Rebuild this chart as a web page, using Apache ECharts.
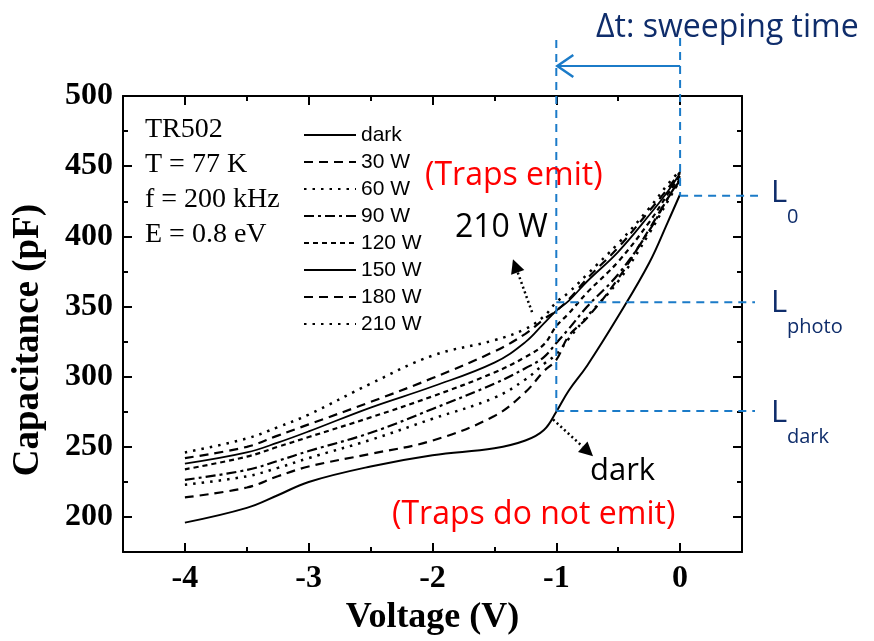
<!DOCTYPE html>
<html><head><meta charset="utf-8">
<script src="https://cdn.jsdelivr.net/npm/echarts/dist/echarts.min.js"></script>
<style>html,body{margin:0;padding:0;background:#fff}#c{width:874px;height:641px}</style>
</head><body><div id="c"></div>
<script>
// ---- data ----
const voltage = [-4, -3.5, -3.25, -3, -2.5, -2, -1.5, -1.25, -1.1, -1, -0.9, -0.75, -0.5, -0.25, -0.1, 0];
const cDark = [196, 206.5, 215.5, 225, 236, 244, 249, 254.5, 262, 275, 290, 308, 343, 381, 410, 430];
const c30W  = [214, 221, 229, 236, 245, 254.5, 272, 289, 304, 312, 329, 342, 370, 405, 427, 440];
const c60W  = [223, 229, 235, 242, 255, 270, 285, 298, 309, 316, 327, 343, 368, 402, 425, 440];
const c90W  = [226.5, 233.5, 240, 247, 260, 277, 295, 306, 314, 324, 334, 350, 373, 404, 427, 441];
const c120W = [234, 243, 250, 257, 271, 286, 303, 314, 323, 336, 345, 360, 382, 410, 430, 443];
const c150W = [238, 246, 253, 261, 278, 293, 310, 324.6, 338, 347, 354, 368, 389, 415, 432, 445];
const c180W = [242, 250, 258, 266, 282, 299, 318, 330.5, 341, 347, 355, 370, 392, 418, 434, 446];
const c210W = [246, 256, 264, 273, 295, 315, 326, 334, 343, 353, 360, 373, 395, 420, 437, 447];
const seriesNames = ['dark', '30 W', '60 W', '90 W', '120 W', '150 W', '180 W', '210 W'];
const xMajor = [-4, -3, -2, -1, 0];
const xMinor = [-3.5, -2.5, -1.5, -0.5];
const yMajor = [200, 250, 300, 350, 400, 450, 500];
const yMinor = [225, 275, 325, 375, 425, 475];
const conditions = ['TR502', 'T = 77 K', 'f = 200 kHz', 'E = 0.8 eV'];
// annotation anchors (data units)
const sweepStartV = -1, sweepEndV = 0;
const levelL0 = 429, levelPhoto = 353, levelDark = 275.5;

// ---- styles ----
const lineStyles = [
  {type: 'solid', width: 2},
  {type: [9, 6], width: 2.2},
  {type: [2.5, 6], width: 2.5},
  {type: [10, 4, 3, 4], width: 2.2},
  {type: [5, 4], width: 2.2},
  {type: 'solid', width: 1.8},
  {type: [9, 6], width: 2.2},
  {type: [2.5, 6], width: 2.5}
];
const allValues = [cDark, c30W, c60W, c90W, c120W, c150W, c180W, c210W];

const chart = echarts.init(document.getElementById('c'), null, {renderer: 'canvas'});
const serif = 'Liberation Serif';
const lineOn = {show: true, onZero: false, lineStyle: {color: '#000', width: 2}};
const lineOff = {show: false, onZero: false};
const tick = (len, vals) => ({show: true, inside: true, length: len, customValues: vals, lineStyle: {color: '#000', width: 2}});
const xBase = {type: 'value', min: -4.5, max: 0.5, splitLine: {show: false}};
const yBase = {type: 'value', min: 175, max: 500, splitLine: {show: false}};

const option = {
  animation: false,
  backgroundColor: '#fff',
  grid: {left: 123, right: 132, top: 96, bottom: 87},
  legend: {
    orient: 'vertical', left: 298, top: 119.5,
    itemWidth: 52, itemHeight: 14, itemGap: 6,
    data: seriesNames,
    itemStyle: {opacity: 0},
    textStyle: {fontFamily: 'Liberation Sans', fontSize: 21, lineHeight: 21, color: '#000'}
  },
  xAxis: [
    Object.assign({}, xBase, {
      position: 'bottom', axisLine: lineOn,
      name: 'Voltage (V)', nameLocation: 'middle', nameGap: 41,
      nameTextStyle: {fontFamily: serif, fontWeight: 'bold', fontSize: 36, color: '#000'},
      axisTick: tick(9, xMajor),
      axisLabel: {show: true, customValues: xMajor, margin: 11, fontFamily: serif, fontWeight: 'bold', fontSize: 32, color: '#000'}
    }),
    Object.assign({}, xBase, {position: 'bottom', axisLine: lineOff, axisTick: tick(5, xMinor), axisLabel: {show: false}}),
    Object.assign({}, xBase, {position: 'top', axisLine: lineOn, axisTick: tick(9, xMajor), axisLabel: {show: false}}),
    Object.assign({}, xBase, {position: 'top', axisLine: lineOff, axisTick: tick(5, xMinor), axisLabel: {show: false}})
  ],
  yAxis: [
    Object.assign({}, yBase, {
      position: 'left', axisLine: lineOn,
      name: 'Capacitance (pF)', nameLocation: 'middle', nameGap: 76,
      nameTextStyle: {fontFamily: serif, fontWeight: 'bold', fontSize: 37, color: '#000', padding: [0, 32, 0, 0]},
      axisTick: tick(9, yMajor),
      axisLabel: {show: true, customValues: yMajor, margin: 10, fontFamily: serif, fontWeight: 'bold', fontSize: 32, color: '#000'}
    }),
    Object.assign({}, yBase, {position: 'left', axisLine: lineOff, axisTick: tick(5, yMinor), axisLabel: {show: false}}),
    Object.assign({}, yBase, {position: 'right', axisLine: lineOn, axisTick: tick(9, yMajor), axisLabel: {show: false}}),
    Object.assign({}, yBase, {position: 'right', axisLine: lineOff, axisTick: tick(5, yMinor), axisLabel: {show: false}})
  ],
  series: seriesNames.map((name, k) => ({
    name: name, type: 'line', xAxisIndex: 0, yAxisIndex: 0,
    data: voltage.map((v, i) => [v, allValues[k][i]]),
    smooth: 0.4,
    symbol: 'none', showSymbol: false,
    itemStyle: {color: '#000'},
    lineStyle: Object.assign({color: '#000'}, lineStyles[k]),
    z: 3
  }))
};
chart.setOption(option);

// ---- annotations ----
const P = (v, c) => chart.convertToPixel({xAxisIndex: 0, yAxisIndex: 0}, [v, c]);
const blue = '#1b7bc8', navy = '#0f2d6b', red = '#ff0000';
const sans = 'Open Sans';
const xA = P(sweepStartV, levelDark)[0];
const xB = P(sweepEndV, levelL0)[0];
const yL0 = P(sweepEndV, levelL0)[1];
const yPh = P(sweepStartV, levelPhoto)[1];
const yDk = P(sweepStartV, levelDark)[1];
const dashStyle = {stroke: blue, lineWidth: 2, lineDash: [8, 6]};
const g = [];
function line(x1, y1, x2, y2, style) {
  g.push({type: 'line', shape: {x1, y1, x2, y2}, style: Object.assign({}, style), z: 20, silent: true});
}
function text(str, x, y, font, fill) {
  g.push({type: 'text', x: x, y: y, z: 21, silent: true,
    style: {text: str, font: font, fill: fill, textVerticalAlign: 'middle', verticalAlign: 'middle', textAlign: 'left', align: 'left'}});
}
function dottedArrow(p0, p1) {
  const dx = p1[0] - p0[0], dy = p1[1] - p0[1];
  const L = Math.hypot(dx, dy), ux = dx / L, uy = dy / L;
  const hl = 14, hw = 7;
  const bx = p1[0] - ux * hl, by = p1[1] - uy * hl;
  line(p0[0], p0[1], bx, by, {stroke: '#000', lineWidth: 2.5, lineDash: [2, 3]});
  g.push({type: 'polygon', z: 21, silent: true,
    shape: {points: [[p1[0], p1[1]], [bx - uy * hw, by + ux * hw], [bx + uy * hw, by - ux * hw]]},
    style: {fill: '#000'}});
}
// blue dashed guides
line(xA, 40, xA, yDk, dashStyle);
line(xB, 38, xB, yL0, dashStyle);
line(xB, yL0, 758, yL0, dashStyle);
line(xA, yPh, 755, yPh, dashStyle);
line(xA, yDk, 755, yDk, dashStyle);
// sweeping-time arrow
line(xB, 66, xA + 1, 66, {stroke: blue, lineWidth: 2});
g.push({type: 'polyline', z: 21, silent: true,
  shape: {points: [[xA + 17, 55], [xA + 1, 66], [xA + 17, 77]]},
  style: {stroke: blue, lineWidth: 2.5, fill: null}});
text('\u0394t: sweeping time', 596, 28, '32px "' + sans + '"', navy);
// L labels
text('L', 771, 193, '31px "' + sans + '"', navy);
text('0', 787, 217, '20px "' + sans + '"', navy);
text('L', 771, 303, '31px "' + sans + '"', navy);
text('photo', 787, 327, '20px "' + sans + '"', navy);
text('L', 771, 413, '31px "' + sans + '"', navy);
text('dark', 787, 437, '20px "' + sans + '"', navy);
// red / black notes
text('(Traps emit)', 425, 176, '32px "' + sans + '"', red);
text('(Traps do not emit)', 392, 515, '32px "' + sans + '"', red);
text('210 W', 455, 228, '32px "' + sans + '"', '#000');
text('dark', 590, 471, '31px "' + sans + '"', '#000');
dottedArrow(P(-1.196, 346), P(-1.35, 383.7));
dottedArrow(P(-1.026, 269.5), P(-0.703, 243.3));
// condition text block
conditions.forEach((s, i) => text(s, 145, 130 + i * 35, '28px "' + serif + '"', '#000'));

chart.setOption({graphic: {elements: g}});
</script>
</body></html>
